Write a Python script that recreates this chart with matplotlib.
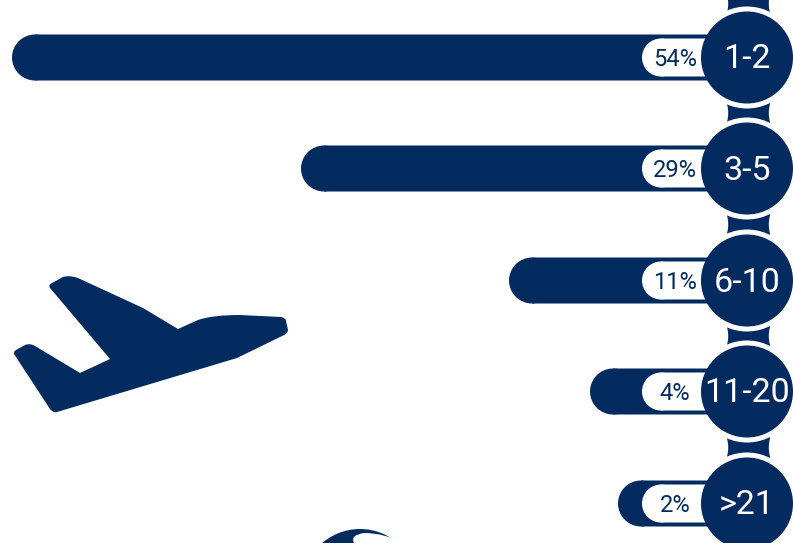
import matplotlib
matplotlib.use("Agg")
import matplotlib.pyplot as plt
from matplotlib.patches import Circle, PathPatch
from matplotlib.path import Path

NAVY = "#032b60"

groups = ["1-2", "3-5", "6-10", "11-20", ">21"]
shares = ["54%", "29%", "11%", "4%", "2%"]
bar_left = [12, 301, 509, 590, 618]
row_y = [57.5, 168.5, 280.5, 391.5, 503.5]

M, L, Q = Path.MOVETO, Path.LINETO, Path.CURVE3

# plane outline
plane = [
    (M, 50, 288), (Q, 48, 285), (Q, 52, 283), (L, 63, 277), (Q, 69, 275), (Q, 78, 278),
    (L, 143, 308), (L, 178, 329), (L, 198, 320), (Q, 212, 315), (Q, 240, 315),
    (L, 281, 317), (Q, 286, 318), (Q, 286, 321), (L, 288, 330), (Q, 288, 334), (Q, 280, 337),
    (L, 237, 358), (L, 57, 412), (Q, 53, 413), (Q, 50, 409), (L, 14, 354), (Q, 13, 352), (Q, 16, 350),
    (L, 25, 345), (Q, 30, 343), (Q, 35, 346), (L, 80, 373), (L, 110, 359), (L, 50, 288),
]
# white swirl on the globe
swirl = [(M, 354, 543), (Q, 350, 535), (Q, 364, 533), (Q, 385, 533), (Q, 402, 543), (L, 354, 543)]


def shape(items):
    return Path([(x, y) for _, x, y in items], [c for c, _, _ in items])


def pill(ax, left, right, y, h, color, z):
    start = left + h / 2
    ax.barh(y, right - start, left=start, height=h, color=color, lw=0, zorder=z, snap=False)
    ax.add_patch(Circle((start, y), h / 2, fc=color, ec="none", zorder=z))


fig = plt.figure(figsize=(7.93, 5.43), dpi=100)
ax = fig.add_axes([0, 0, 1, 1])
plt.rcParams["font.family"] = ["Roboto", "DejaVu Sans"]

# connector pieces between the circles, sides pinched in slightly
stops = [-50] + row_y
for top, bottom in zip(stops[:-1], stops[1:]):
    mid = (top + bottom) / 2
    conn = [(M, 727, top), (L, 727, mid - 9), (Q, 729.5, mid), (Q, 727, mid + 9), (L, 727, bottom),
            (L, 770, bottom), (L, 770, mid + 9), (Q, 767.5, mid), (Q, 770, mid - 9), (L, 770, top), (L, 727, top)]
    ax.add_patch(PathPatch(shape(conn), fc=NAVY, ec="none", zorder=1))

for i, y in enumerate(row_y):
    ax.add_patch(Circle((747, y), 51, fc="white", ec="none", zorder=2))
    pill(ax, bar_left[i], 730, y, 46, NAVY, 3)
    pill(ax, 642, 730, y, 38, "white", 4)
    ax.add_patch(Circle((747, y), 46, fc=NAVY, ec="none", zorder=5))
    ax.text(675, y + 2, shares[i], color=NAVY, fontsize=17, ha="center", va="center", zorder=6)
    ax.text(747, y + 2, groups[i], color="white", fontsize=24.5, ha="center", va="center", zorder=6)

ax.add_patch(PathPatch(shape(plane), fc=NAVY, ec="none"))

# globe cut by the bottom edge
ax.add_patch(Circle((360, 587), 58, fc=NAVY, ec="none"))
ax.add_patch(PathPatch(shape(swirl), fc="white", ec="none"))

ax.set_xlim(0, 793)
ax.set_ylim(543, 0)
ax.axis("off")
fig.savefig("out.png", dpi=100)
